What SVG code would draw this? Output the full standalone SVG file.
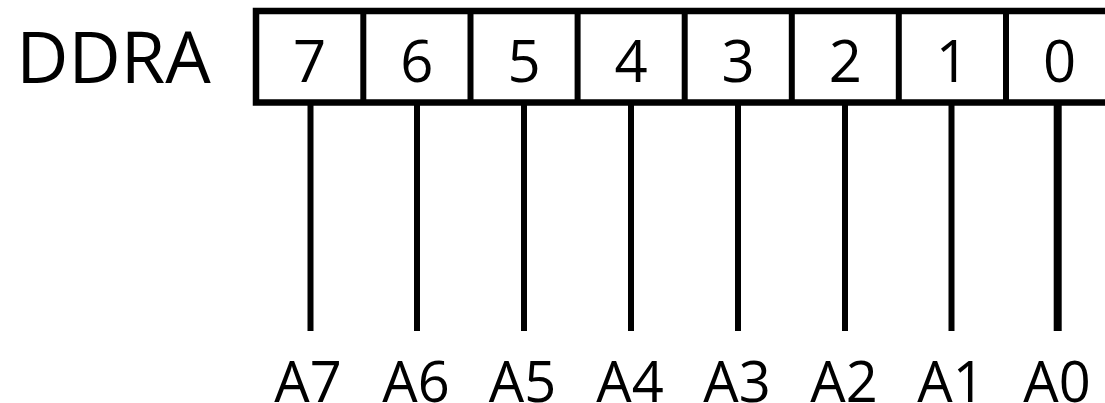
<svg xmlns="http://www.w3.org/2000/svg" width="1105" height="403" viewBox="0 0 1105 403">
<style>
.t{font-family:"Open Sans","Liberation Sans",sans-serif;fill:#000;text-anchor:middle}
.cell{fill:#fff;stroke:#000;stroke-width:6.5}
.pin{stroke:#000;stroke-width:6;fill:none}
</style>
<rect width="1105" height="403" fill="#fff"/>
<g id="label-ddra"><text class="t" x="113.5" y="83" font-size="72">DDRA</text></g>
<g id="register">
<rect class="cell" x="256" y="11" width="857" height="91.5"/>
<g class="pin">
<line x1="363.3" y1="11" x2="363.3" y2="102.5"/>
<line x1="470.5" y1="11" x2="470.5" y2="102.5"/>
<line x1="577.6" y1="11" x2="577.6" y2="102.5"/>
<line x1="684.7" y1="11" x2="684.7" y2="102.5"/>
<line x1="791.8" y1="11" x2="791.8" y2="102.5"/>
<line x1="898.8" y1="11" x2="898.8" y2="102.5"/>
<line x1="1006" y1="11" x2="1006" y2="102.5"/>
</g>
</g>
<g id="bit7"><text class="t" x="309.7" y="82" font-size="58">7</text></g>
<g id="bit6"><text class="t" x="416.9" y="82" font-size="58">6</text></g>
<g id="bit5"><text class="t" x="524" y="82" font-size="58">5</text></g>
<g id="bit4"><text class="t" x="631.1" y="82" font-size="58">4</text></g>
<g id="bit3"><text class="t" x="738.2" y="82" font-size="58">3</text></g>
<g id="bit2"><text class="t" x="845.3" y="82" font-size="58">2</text></g>
<g id="bit1"><text class="t" x="952.4" y="82" font-size="58">1</text></g>
<g id="bit0"><text class="t" x="1059.5" y="82" font-size="58">0</text></g>
<g id="connectors" class="pin">
<line x1="310.5" y1="105" x2="310.5" y2="331"/>
<line x1="417" y1="105" x2="417" y2="331"/>
<line x1="524" y1="105" x2="524" y2="331"/>
<line x1="631" y1="105" x2="631" y2="331"/>
<line x1="738" y1="105" x2="738" y2="331"/>
<line x1="845" y1="105" x2="845" y2="331"/>
<line x1="951.5" y1="105" x2="951.5" y2="331"/>
<line x1="1057.7" y1="105" x2="1057.7" y2="331" stroke-width="8"/>
</g>
<g id="pinA7"><text class="t" x="308" y="402" font-size="56">A7</text></g>
<g id="pinA6"><text class="t" x="416" y="402" font-size="56">A6</text></g>
<g id="pinA5"><text class="t" x="522.5" y="402" font-size="56">A5</text></g>
<g id="pinA4"><text class="t" x="630" y="402" font-size="56">A4</text></g>
<g id="pinA3"><text class="t" x="737" y="402" font-size="56">A3</text></g>
<g id="pinA2"><text class="t" x="844" y="402" font-size="56">A2</text></g>
<g id="pinA1"><text class="t" x="951" y="402" font-size="56">A1</text></g>
<g id="pinA0"><text class="t" x="1057" y="402" font-size="56">A0</text></g>
</svg>
